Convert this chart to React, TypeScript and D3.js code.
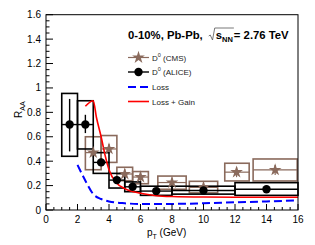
import React, { useEffect, useRef } from "react";
import * as d3 from "d3";

// ALICE D0 (black circles)
const aliceX = [1.5, 2.5, 3.5, 4.5, 5.5, 7, 10, 14];
const aliceLo = [1, 2, 3, 4, 5, 6, 8, 12];
const aliceHi = [2, 3, 4, 5, 6, 8, 12, 16];
const aliceY = [0.7, 0.7, 0.39, 0.245, 0.19, 0.155, 0.16, 0.17];
const aliceStatLo = [0.48, 0.63, 0.36, 0.225, 0.175, 0.145, 0.15, 0.155];
const aliceStatHi = [0.91, 0.78, 0.42, 0.265, 0.205, 0.165, 0.17, 0.185];
const aliceSysLo = [0.44, 0.5, 0.3, 0.18, 0.15, 0.12, 0.13, 0.12];
const aliceSysHi = [0.955, 0.895, 0.47, 0.3, 0.23, 0.195, 0.195, 0.224];

// CMS D0 (brown stars)
const cmsX = [3.0, 4.0, 5.0, 6.0, 8.0, 10.0, 12.1, 14.55];
const cmsLo = [2.5, 3.5, 4.5, 5.5, 7.1, 9.1, 11.35, 13.15];
const cmsHi = [3.5, 4.5, 5.5, 6.5, 8.9, 10.9, 12.9, 15.95];
const cmsY = [0.47, 0.5, 0.295, 0.27, 0.225, 0.185, 0.31, 0.328];
const cmsSysLo = [0.33, 0.39, 0.24, 0.215, 0.17, 0.14, 0.238, 0.238];
const cmsSysHi = [0.6, 0.61, 0.35, 0.315, 0.278, 0.235, 0.383, 0.418];

// Model curves
const lossX = [2, 2.5, 3, 3.5, 4, 5, 6, 8, 10, 12, 14, 16];
const lossY = [0.37, 0.24, 0.13, 0.09, 0.07, 0.055, 0.05, 0.05, 0.055, 0.063, 0.07, 0.08];
const gainX = [2.5, 3, 3.2, 3.5, 3.75, 4, 4.5, 5, 6, 7, 8, 10, 12, 14, 16];
const gainY = [0.85, 0.895, 0.76, 0.6, 0.45, 0.33, 0.22, 0.175, 0.137, 0.117, 0.11, 0.106, 0.105, 0.105, 0.105];

const xTicks = [0, 2, 4, 6, 8, 10, 12, 14, 16];
const yTicks = [0, 0.2, 0.4, 0.6, 0.8, 1, 1.2, 1.4, 1.6];

const BROWN = "#8a6a5c";
const FONT = "'Liberation Sans', Arial, Helvetica, sans-serif";

export default function App() {
  const ref = useRef<SVGSVGElement>(null);

  useEffect(() => {
    const svg = d3.select(ref.current!);
    svg.selectAll("*").remove();
    const W = 315, H = 245;
    const L = 46, R = 298, T = 14.7, B = 210;
    const x = d3.scaleLinear().domain([0, 16]).range([L, R]);
    const y = d3.scaleLinear().domain([0, 1.6]).range([B, T]);

    svg.append("rect").attr("width", W).attr("height", H).attr("fill", "#fff");

    const g = svg.append("g");

    // CMS boxes
    cmsX.forEach((cx, i) => {
      g.append("rect")
        .attr("x", x(cmsLo[i])).attr("y", y(cmsSysHi[i]))
        .attr("width", x(cmsHi[i]) - x(cmsLo[i]))
        .attr("height", y(cmsSysLo[i]) - y(cmsSysHi[i]))
        .attr("fill", "none").attr("stroke", BROWN).attr("stroke-width", 1.6);
      g.append("line")
        .attr("x1", x(cmsLo[i])).attr("x2", x(cmsHi[i]))
        .attr("y1", y(cmsY[i])).attr("y2", y(cmsY[i]))
        .attr("stroke", BROWN).attr("stroke-width", 1.2);
      g.append("line")
        .attr("x1", x(cx)).attr("x2", x(cx))
        .attr("y1", y(cmsY[i]) - 5).attr("y2", y(cmsY[i]) + 5)
        .attr("stroke", BROWN).attr("stroke-width", 1.2);
    });

    // ALICE boxes
    aliceX.forEach((cx, i) => {
      g.append("rect")
        .attr("x", x(aliceLo[i])).attr("y", y(aliceSysHi[i]))
        .attr("width", x(aliceHi[i]) - x(aliceLo[i]))
        .attr("height", y(aliceSysLo[i]) - y(aliceSysHi[i]))
        .attr("fill", "none").attr("stroke", "#000").attr("stroke-width", 1.6);
      g.append("line")
        .attr("x1", x(aliceLo[i])).attr("x2", x(aliceHi[i]))
        .attr("y1", y(aliceY[i])).attr("y2", y(aliceY[i]))
        .attr("stroke", "#000").attr("stroke-width", 1.4);
      g.append("line")
        .attr("x1", x(cx)).attr("x2", x(cx))
        .attr("y1", y(aliceStatHi[i])).attr("y2", y(aliceStatLo[i]))
        .attr("stroke", "#000").attr("stroke-width", 1.4);
    });

    // curves
    const mk = d3.line<[number, number]>().x(d => x(d[0])).y(d => y(d[1])).curve(d3.curveMonotoneX);
    g.append("path")
      .attr("d", mk(lossX.map((v, i) => [v, lossY[i]] as [number, number])))
      .attr("fill", "none").attr("stroke", "#0000ff").attr("stroke-width", 2)
      .attr("stroke-dasharray", "8,4");
    g.append("path")
      .attr("d", mk(gainX.map((v, i) => [v, gainY[i]] as [number, number])))
      .attr("fill", "none").attr("stroke", "#ff0000").attr("stroke-width", 1.6);

    // markers
    const star = d3.symbol().type(d3.symbolStar).size(50);
    cmsX.forEach((cx, i) => {
      g.append("path").attr("d", star()!)
        .attr("transform", `translate(${x(cx)},${y(cmsY[i])})`)
        .attr("fill", BROWN);
    });
    aliceX.forEach((cx, i) => {
      g.append("circle").attr("cx", x(cx)).attr("cy", y(aliceY[i])).attr("r", 4.2).attr("fill", "#000");
    });

    // frame
    svg.append("rect").attr("x", L).attr("y", T).attr("width", R - L).attr("height", B - T)
      .attr("fill", "none").attr("stroke", "#000").attr("stroke-width", 1);

    // axes ticks
    const ax = svg.append("g").attr("stroke", "#000").attr("stroke-width", 1);
    d3.range(0, 16.01, 0.5).forEach(v => {
      const major = Math.abs(v - Math.round(v / 2) * 2) < 1e-6;
      ax.append("line").attr("x1", x(v)).attr("x2", x(v)).attr("y1", B).attr("y2", B - (major ? 6 : 3));
    });
    d3.range(0, 1.601, 0.05).forEach(v => {
      const major = Math.abs(v * 5 - Math.round(v * 5)) < 1e-6;
      ax.append("line").attr("x1", L).attr("x2", L + (major ? 7 : 3.5)).attr("y1", y(v)).attr("y2", y(v));
    });

    const txt = svg.append("g").attr("font-family", FONT).attr("fill", "#000");
    xTicks.forEach(v => {
      txt.append("text").attr("x", x(v)).attr("y", 223).attr("text-anchor", "middle")
        .attr("font-size", 10).text(String(v));
    });
    yTicks.forEach(v => {
      txt.append("text").attr("x", 41).attr("y", y(v) + 3.5).attr("text-anchor", "end")
        .attr("font-size", 10).text(String(v));
    });

    // axis titles
    const xt = txt.append("text").attr("x", 147).attr("y", 236).attr("font-size", 10);
    xt.append("tspan").text("p");
    xt.append("tspan").attr("font-size", 7).attr("dy", 3).text("T");
    xt.append("tspan").attr("dy", -3).text(" (GeV)");

    const yt = txt.append("text").attr("transform", "translate(22,118) rotate(-90)").attr("font-size", 10);
    yt.append("tspan").text("R");
    yt.append("tspan").attr("font-size", 7).attr("dy", 2.5).text("AA");

    // title
    const by = 39;
    const fs = 11.3;
    const t1 = txt.append("text").attr("x", 128).attr("y", by).attr("font-size", fs).attr("font-weight", "bold")
      .text("0-10%, Pb-Pb,");
    const w1 = (t1.node() as SVGTextElement).getComputedTextLength();
    const x0 = 128 + w1 + 6;
    const s = txt.append("text").attr("x", x0 + 7).attr("y", by).attr("font-size", fs).attr("font-weight", "bold").text("s");
    const ws = (s.node() as SVGTextElement).getComputedTextLength();
    const nn = txt.append("text").attr("x", x0 + 7 + ws).attr("y", by + 2.5).attr("font-size", 7.5).attr("font-weight", "bold").text("NN");
    const wn = (nn.node() as SVGTextElement).getComputedTextLength();
    const xe = x0 + 7 + ws + wn + 1;
    txt.append("path")
      .attr("d", `M${x0},${by - 3} L${x0 + 1.5},${by - 4} L${x0 + 3.8},${by + 1} L${x0 + 6},${by - 11} L${xe},${by - 11}`)
      .attr("fill", "none").attr("stroke", "#555").attr("stroke-width", 0.8);
    txt.append("text").attr("x", xe).attr("y", by).attr("font-size", fs).attr("font-weight", "bold").text(" = 2.76 TeV");

    // legend
    const lx0 = 128, lx1 = 149, tx = 152;
    const rows = [57.5, 72, 87, 101.5];
    const lg = svg.append("g");
    lg.append("line").attr("x1", lx0).attr("x2", lx1).attr("y1", rows[0]).attr("y2", rows[0]).attr("stroke", BROWN).attr("stroke-width", 1.2);
    lg.append("path").attr("d", star()!).attr("transform", `translate(${(lx0 + lx1) / 2},${rows[0]})`).attr("fill", BROWN);
    lg.append("line").attr("x1", lx0).attr("x2", lx1).attr("y1", rows[1]).attr("y2", rows[1]).attr("stroke", "#000").attr("stroke-width", 1.4);
    lg.append("circle").attr("cx", (lx0 + lx1) / 2).attr("cy", rows[1]).attr("r", 4.2).attr("fill", "#000");
    lg.append("line").attr("x1", lx0).attr("x2", lx1).attr("y1", rows[2]).attr("y2", rows[2]).attr("stroke", "#0000ff").attr("stroke-width", 2).attr("stroke-dasharray", "8,4");
    lg.append("line").attr("x1", lx0).attr("x2", lx1).attr("y1", rows[3]).attr("y2", rows[3]).attr("stroke", "#ff0000").attr("stroke-width", 1.6);

    const labels = [["D", "0", " (CMS)"], ["D", "0", " (ALICE)"], ["Loss", "", ""], ["Loss + Gain", "", ""]];
    labels.forEach((lb, i) => {
      const t = txt.append("text").attr("x", tx).attr("y", rows[i] + 3).attr("font-size", 8).attr("fill", "#222");
      t.append("tspan").text(lb[0]);
      if (lb[1]) {
        t.append("tspan").attr("font-size", 5.5).attr("dy", -4).text(lb[1]);
        t.append("tspan").attr("dy", 4).text(lb[2]);
      }
    });
  }, []);

  return (
    <svg ref={ref} width={315} height={245} style={{ position: "absolute", left: 0, top: 0 }} />
  );
}
